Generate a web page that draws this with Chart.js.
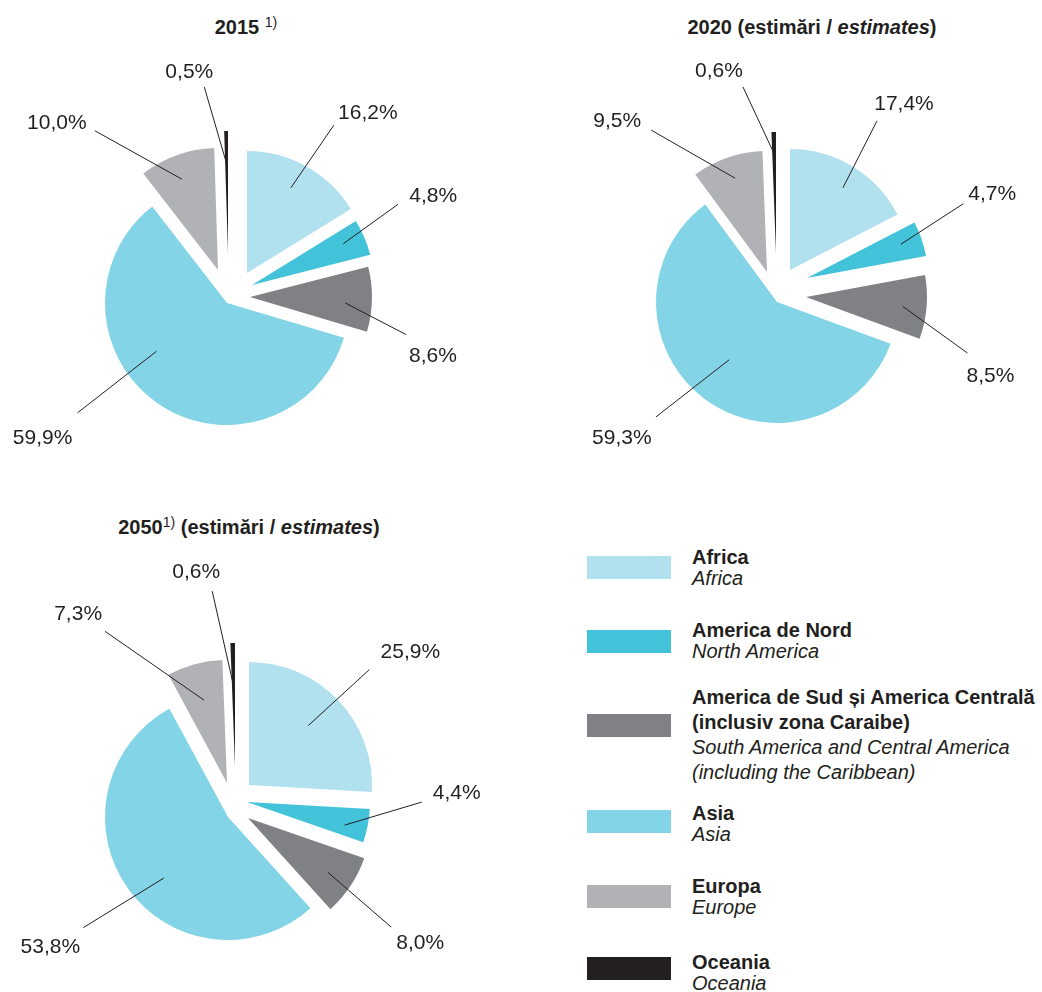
<!DOCTYPE html>
<html>
<head>
<meta charset="utf-8">
<script src="https://cdn.jsdelivr.net/npm/chart.js@4.4.1/dist/chart.umd.min.js"></script>
<style>
  body { margin: 0; width: 1042px; height: 992px; background: #fff; position: relative; overflow: hidden;
         font-family: "Liberation Sans", Arial, sans-serif; color: #231f20; }
  canvas { position: absolute; }
  .title { position: absolute; font-weight: bold; font-size: 20px; line-height: 24px; text-align: center; white-space: nowrap; }
  .title sup { font-weight: normal; font-size: 14px; vertical-align: 7px; line-height: 0; }
  .swatch { position: absolute; left: 587px; width: 84px; height: 23px; }
  .ltext { position: absolute; left: 692px; font-size: 20px; white-space: nowrap; }
  .ltext b, .ltext i { display: block; }
</style>
</head>
<body>
<div class="title" style="left:0px; width:492px; top:15px;">2015 <sup>1)</sup></div>
<div class="title" style="left:612px; width:400px; top:15px;">2020 (estimări / <i>estimates</i>)</div>
<div class="title" style="left:49px; width:400px; top:515px;">2050<sup>1)</sup> (estimări / <i>estimates</i>)</div>
<canvas id="pie2015"></canvas>
<canvas id="pie2020"></canvas>
<canvas id="pie2050"></canvas>
<div id="legend"></div>
<script>
// categories (ro / en) and colours
var categories = ['Africa', 'America de Nord', 'America de Sud și America Centrală\n(inclusiv zona Caraibe)', 'Asia', 'Europa', 'Oceania'];
var categoriesEn = ['Africa', 'North America', 'South America and Central America\n(including the Caribbean)', 'Asia', 'Europe', 'Oceania'];
var colors = ['#b1e1ee', '#42c3da', '#808185', '#82d4e6', '#b1b2b6', '#231f20'];

// share of world population, %
var share2015 = [16.2, 4.8, 8.6, 59.9, 10.0, 0.5];
var share2020 = [17.4, 4.7, 8.5, 59.3, 9.5, 0.6];
var share2050 = [25.9, 4.4, 8.0, 53.8, 7.3, 0.6];

// pie placement: canvas box + pie centre/radius (page px)
var pies = [
    { id: 'pie2015', data: share2015, box: [0, 40, 520, 440], cx: 227, cy: 303, r: 122,
      shift: [[20, -30], [25, -18], [23, -6], [0, 0], [-9, -33], [1, -50]],
      // [angle in, radius in, angle out, radius out, text dx, text dy]
      labels: [[29, 1.08, 31, 1.70, 34, -13], [63, 1.07, 60, 1.62, 35, -9], [90, 0.97, 100, 1.49, 27, 21],
               [235.6, 0.70, 233.7, 1.52, -35, 24], [340, 1.08, 322.5, 1.78, -38, -9], [0, 1.13, 354, 1.78, -15, -16]] },
    { id: 'pie2020', data: share2020, box: [560, 40, 482, 440], cx: 777, cy: 302, r: 121,
      shift: [[13, -32], [30, -24], [29, -5], [0, 0], [-10, -30], [-1, -49]],
      labels: [[30, 1.09, 28.9, 1.71, 27, -18], [65, 1.13, 62.2, 1.74, 29, -11], [92, 1.04, 105, 1.63, 23, 22],
               [219.6, 0.62, 226.5, 1.38, -34, 20], [341.3, 1.08, 323.8, 1.76, -34, -10], [358.8, 1.23, 351, 1.8, -24, -17]] },
    { id: 'pie2050', data: share2050, box: [0, 540, 520, 452], cx: 228, cy: 817, r: 123,
      shift: [[21, -32], [19, -15], [20, 1], [0, 0], [-1, -34], [7, -51]],
      labels: [[41.3, 0.99, 43.8, 1.66, 41, -18], [94, 0.95, 85.6, 1.58, 35, -10], [119, 0.93, 124, 1.60, 29, 15],
               [226.4, 0.72, 232.6, 1.48, -33, 19], [348.4, 0.97, 326.5, 1.81, -27, -18], [2.1, 1.09, 356, 1.84, -16, -20]] }
];

// legend rows: swatch top, text top, line height
var legendRows = [[556, 547, 21], [630, 620, 21], [714, 685, 25], [810, 803, 21], [885, 876, 21], [957, 952, 21]];

var fmt = function (v) {
    return v.toFixed(1).replace('.', ',') + '%';
};

var polar = function (cx, cy, deg, dist) {
    var a = (deg - 90) * Math.PI / 180;
    return { x: cx + Math.cos(a) * dist, y: cy + Math.sin(a) * dist };
};

// push each slice out of the pie while it is drawn
var makeExplode = function (shift) {
    return {
        id: 'explode',
        beforeDatasetsDraw: function (chart) {
            chart.getDatasetMeta(0).data.forEach(function (arc, i) {
                arc._bx = arc.x; arc._by = arc.y;
                arc.x += shift[i][0]; arc.y += shift[i][1];
            });
        },
        afterDatasetsDraw: function (chart) {
            chart.getDatasetMeta(0).data.forEach(function (arc) {
                arc.x = arc._bx; arc.y = arc._by;
            });
        }
    };
};

// percentage labels with leader lines
var makeLabels = function (layout, values) {
    return {
        id: 'sliceLabels',
        afterDraw: function (chart) {
            var ctx = chart.ctx;
            var area = chart.chartArea;
            var cx = (area.left + area.right) / 2;
            var cy = (area.top + area.bottom) / 2;
            var arcs = chart.getDatasetMeta(0).data;
            ctx.save();
            ctx.strokeStyle = '#231f20';
            ctx.fillStyle = '#231f20';
            ctx.lineWidth = 1;
            ctx.font = '21px "Liberation Sans", Arial, sans-serif';
            ctx.textAlign = 'center';
            ctx.textBaseline = 'middle';
            arcs.forEach(function (arc, i) {
                var R = arc.outerRadius;
                var l = layout[i];
                var p1 = polar(cx, cy, l[0], l[1] * R);
                var p2 = polar(cx, cy, l[2], l[3] * R);
                ctx.beginPath();
                ctx.moveTo(p1.x, p1.y);
                ctx.lineTo(p2.x, p2.y);
                ctx.stroke();
                ctx.fillText(fmt(values[i]), p2.x + l[4], p2.y + l[5] + 1);
            });
            ctx.restore();
        }
    };
};

pies.forEach(function (p) {
    var cv = document.getElementById(p.id);
    var b = p.box;
    cv.width = b[2]; cv.height = b[3];
    cv.style.left = b[0] + 'px'; cv.style.top = b[1] + 'px';
    var pad = {
        left: p.cx - p.r - b[0],
        top: p.cy - p.r - b[1],
        right: b[0] + b[2] - (p.cx + p.r),
        bottom: b[1] + b[3] - (p.cy + p.r)
    };
    new Chart(cv, {
        type: 'pie',
        data: {
            labels: categories,
            datasets: [{ data: p.data, backgroundColor: colors, borderWidth: 0 }]
        },
        options: {
            responsive: false,
            animation: false,
            events: [],
            layout: { padding: pad },
            plugins: { legend: { display: false }, tooltip: { enabled: false } }
        },
        plugins: [makeExplode(p.shift), makeLabels(p.labels, p.data)]
    });
});

// legend
var legend = document.getElementById('legend');
categories.forEach(function (name, i) {
    var row = legendRows[i];
    var sw = document.createElement('div');
    sw.className = 'swatch';
    sw.style.top = row[0] + 'px';
    sw.style.background = colors[i];
    legend.appendChild(sw);
    var t = document.createElement('div');
    t.className = 'ltext';
    t.style.top = row[1] + 'px';
    t.style.lineHeight = row[2] + 'px';
    t.innerHTML = name.split('\n').map(function (s) { return '<b>' + s + '</b>'; }).join('') +
        categoriesEn[i].split('\n').map(function (s) { return '<i>' + s + '</i>'; }).join('');
    legend.appendChild(t);
});
</script>
</body>
</html>
